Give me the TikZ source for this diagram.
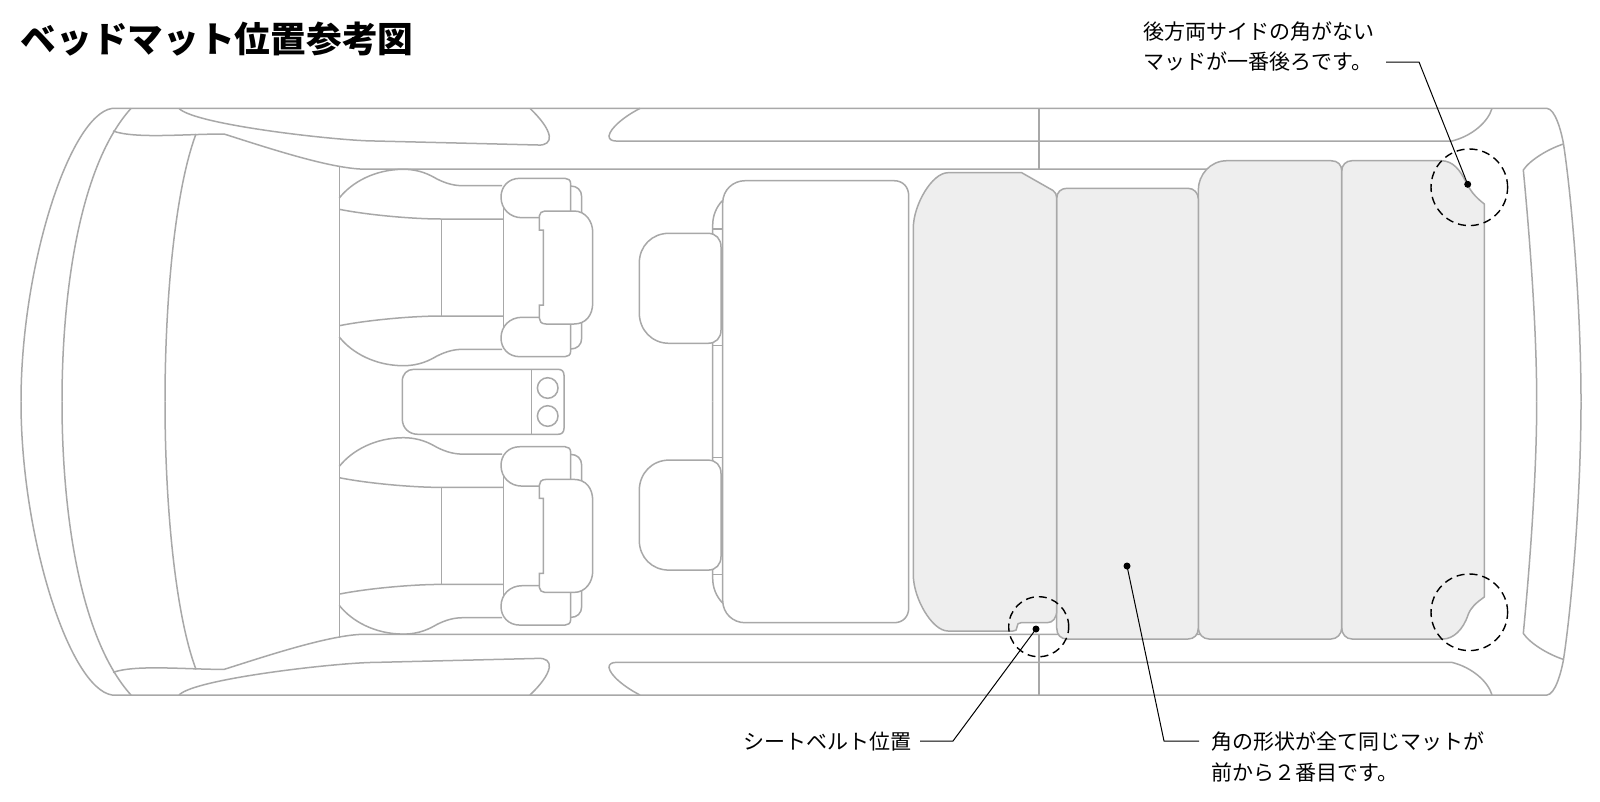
\documentclass[tikz,border=0pt]{standalone}
\usepackage{fontspec}
\setmainfont{Noto Sans CJK JP}
\newcommand\carhalf{%
  % body outlines
  \draw[carline] (112,108.4) .. controls (70,115) and (21,265) .. (21,401.7);
  \draw[carline] (131,108.4) .. controls (80,165) and (62,290) .. (62,401.7);
  \draw[carline] (196,134) .. controls (175,190) and (165,300) .. (165,401.7);
  \draw[carline] (113,131) .. controls (135,139) and (185,134) .. (224,134) .. controls (265,147) and (325,167) .. (360,169) -- (1300,169);
  \draw[carline] (179,108.4) .. controls (195,125) and (340,141) .. (375,141) -- (538,145) .. controls (546,145.5) and (550,142) .. (549.3,136) .. controls (548,128) and (540,118) .. (530,108.4);
  \draw[carline] (640,108.4) .. controls (625,116) and (610,128) .. (609,136) .. controls (609,139.5) and (612,141) .. (616,141) -- (1452,141) .. controls (1472,136) and (1488,122) .. (1492,108.4);
  \draw[carline] (1039,108.4) -- (1039,169);
  \draw[carline] (112,108.4) -- (1547,108.4) .. controls (1555,109) and (1561,130) .. (1563.5,144) .. controls (1572,200) and (1581,310) .. (1581,401.7);
  \draw[carline] (1563.5,144) .. controls (1548,149) and (1530,160) .. (1523.3,170) .. controls (1530,240) and (1536.7,330) .. (1536.7,401.7);
  \draw[carline] (339.3,165.5) -- (339.3,401.7);
  % front seat
  \seathalf
  \begin{scope}[shift={(0,535)},yscale=-1]\seathalf\end{scope}
  \draw[carfill] (545,211) -- (574,211) .. controls (586,211) and (592.7,222) .. (592.7,232) -- (592.7,303) .. controls (592.7,315) and (586,324) .. (574,324) -- (546,324) .. controls (541,324) and (539.3,321) .. (539.3,318) -- (539.3,305) -- (543.3,305) -- (543.3,230) -- (539.3,230) -- (539.3,216) .. controls (539.3,213) and (542,211) .. (545,211) -- cycle;
  % second row
  \draw[carline] (723,200) .. controls (716,207) and (712.7,216) .. (712.7,225) -- (712.7,401.7);
  \draw[carline] (712.7,229) -- (722.7,229);
  \draw[carline] (712.7,345.7) -- (722.7,345.7);
  \draw[carfill] (669,233.3) -- (708,233.3) .. controls (716,233.3) and (721,239) .. (721,247) -- (721,330) .. controls (721,338) and (716,343.3) .. (708,343.3) -- (669,343.3) .. controls (652,343.3) and (639.3,330) .. (639.3,313) -- (639.3,263) .. controls (639.3,246) and (652,233.3) .. (669,233.3) -- cycle;
}
\newcommand\seathalf{%
  \draw[carline] (339.3,198) .. controls (352,182) and (375,169.5) .. (403,169.3) .. controls (420,169.3) and (430,175) .. (437,179) .. controls (447,184) and (455,185.7) .. (463,185.7) -- (502,185.7);
  \draw[carline] (339.3,209.3) .. controls (365,214.5) and (410,219) .. (441.7,219) -- (503.7,219);
  \draw[carline] (441.7,219) -- (441.7,267.5);
  \draw[carline] (503.7,200) -- (503.7,267.5);
  \draw[carline] (570.7,186) .. controls (577,186) and (581.7,190) .. (581.7,197) -- (581.7,215);
  \draw[carfill] (570.7,213) -- (570.7,184) .. controls (570.7,180) and (568,178.3) .. (565,178.3) -- (520,178.3) .. controls (508,178.3) and (501,187) .. (501,197) .. controls (501,209) and (510,217.7) .. (522,217.7) -- (541,217.7);
}
\tikzset{
  carline/.style={draw=linegrey,line width=1.5pt},
  carfill/.style={draw=linegrey,fill=white,line width=1.5pt},
  matshape/.style={draw=linegrey,fill=matgrey,line width=1.5pt,line join=round},
  lead/.style={draw=black,line width=1pt},
  dashring/.style={circle,draw=black,line width=1.4pt,dash pattern=on 8pt off 5pt,inner sep=0pt},
  pin/.style={circle,fill=black,inner sep=0pt,minimum size=7pt},
  label/.style={anchor=base west,inner sep=0pt,font=\fontsize{21}{21}\selectfont},
  heading/.style={anchor=base west,inner sep=0pt,font=\fontsize{35.7}{36}\selectfont\bfseries}
}
\definecolor{linegrey}{HTML}{A8A8A8}
\definecolor{matgrey}{HTML}{EEEEEE}
\begin{document}
\begin{tikzpicture}[x=1pt,y=-1pt]
\useasboundingbox (0,0) rectangle (1600,801);
\fill[white] (0,0) rectangle (1600,801);
\carhalf
\begin{scope}[shift={(0,803.4)},yscale=-1]\carhalf\end{scope}
% large second-row seat
\draw[carfill] (745,180.7) -- (894,180.7) .. controls (903,180.7) and (908.7,187) .. (908.7,196) -- (908.7,607.7) .. controls (908.7,616.7) and (903,622.7) .. (894,622.7) -- (745,622.7) .. controls (733,622.7) and (722.7,613.4) .. (722.7,600.4) -- (722.7,203) .. controls (722.7,190) and (733,180.7) .. (745,180.7) -- cycle;
% console
\draw[carfill] (414,369.3) -- (558,369.3) .. controls (562,369.3) and (564,371.5) .. (564,375.3) -- (564,428.3) .. controls (564,432) and (562,434.3) .. (558,434.3) -- (418,434.3) .. controls (409,434.3) and (402.3,428) .. (402.3,419) -- (402.3,381.3) .. controls (402.3,374) and (407,369.3) .. (414,369.3) -- cycle;
\draw[carline] (531.7,369.3) -- (531.7,434.3);
\draw[carline] (547.7,388) circle[radius=10.3];
\draw[carline] (547.7,416) circle[radius=10.3];
% mats
\draw[matshape] (1341.7,171) .. controls (1341.7,165) and (1346,160.7) .. (1352,160.7) -- (1441,160.7) .. controls (1453,160.7) and (1460,170) .. (1466,182) .. controls (1470,190) and (1474,196) .. (1484.3,204) -- (1484.3,597) .. controls (1476,603) and (1471,607) .. (1468,615) .. controls (1463,630) and (1453,639) .. (1443,639) -- (1352,639) .. controls (1346,639) and (1341.7,634) .. (1341.7,628) -- cycle;
\draw[matshape] (1198.3,190) .. controls (1198.3,175) and (1210,160.7) .. (1227,160.7) -- (1331,160.7) .. controls (1338,160.7) and (1341.7,165) .. (1341.7,171) -- (1341.7,628) .. controls (1341.7,634) and (1337,639) .. (1331,639) -- (1209,639) .. controls (1203,639) and (1198.3,634) .. (1198.3,628) -- cycle;
\draw[matshape] (1056.7,198) .. controls (1057,192) and (1061,188.3) .. (1067,188.3) -- (1188,188.3) .. controls (1194,188.3) and (1198.3,193) .. (1198.3,199) -- (1198.3,628) .. controls (1198.3,635) and (1194,639) .. (1188,639) -- (1067,639) .. controls (1061,639) and (1056.7,635) .. (1056.7,628) -- cycle;
\draw[matshape] (913.3,228) .. controls (913.3,205) and (932,172.7) .. (948,172.7) -- (1021.7,172.7) -- (1053,190.5) .. controls (1055.5,192) and (1056.7,195) .. (1056.7,198) -- (1056.7,610) .. controls (1056.7,618) and (1053,622.7) .. (1047,622.7) -- (1021,622.7) .. controls (1018,622.7) and (1017.2,624) .. (1017,627) .. controls (1016.8,630) and (1016,631) .. (1013,631) -- (948,631) .. controls (932,631) and (913.3,598) .. (913.3,575) -- cycle;
% dashed rings
\node[dashring,minimum size=76.6pt] (ringtop) at (1469.3,187.3) {};
\node[dashring,minimum size=76.6pt] (ringbot) at (1469.3,612.3) {};
\node[dashring,minimum size=60pt] (ringbelt) at (1038.7,626.7) {};
% pins and leaders
\node[pin] (pina) at (1467.7,184.3) {};
\node[pin] (pinb) at (1036,629) {};
\node[pin] (pinc) at (1127,566) {};
\coordinate (kneea) at (1419,62);
\coordinate (enda) at (1386,62);
\coordinate (kneeb) at (953,741);
\coordinate (endb) at (920,741);
\coordinate (kneec) at (1164,741);
\coordinate (endc) at (1199,741);
\draw[lead] (pina.center) -- (kneea) -- (enda);
\draw[lead] (pinb.center) -- (kneeb) -- (endb);
\draw[lead] (pinc.center) -- (kneec) -- (endc);
% texts
\node[heading] (title) at (20.5,52) {ベッドマット位置参考図};
\node[label] (noteaone) at (1143,39.7) {後方両サイドの角がない};
\node[label] (noteatwo) at (1143,69.7) {マッドが一番後ろです。};
\node[label] (noteb) at (743.7,749.5) {シートベルト位置};
\node[label] (notecone) at (1211.5,749.5) {角の形状が全て同じマットが};
\node[label] (notectwo) at (1211.5,780) {前から２番目です。};
\end{tikzpicture}
\end{document}
